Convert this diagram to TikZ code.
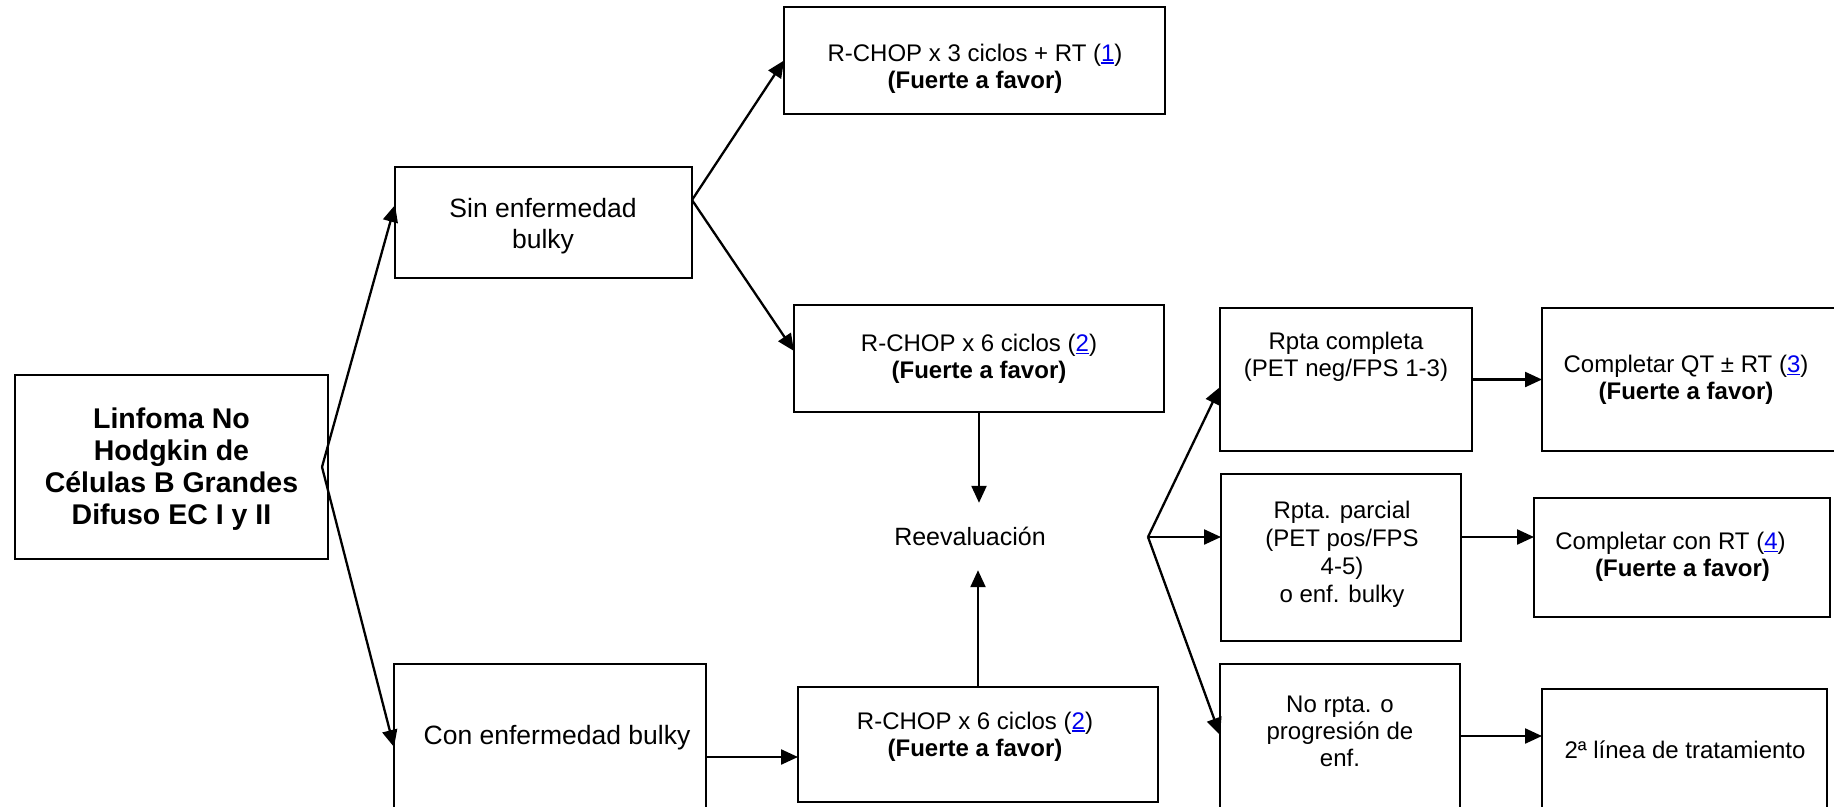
\documentclass[tikz,border=0pt]{standalone}
\usepackage{fontspec}
\setmainfont{Liberation Sans}
\usetikzlibrary{arrows.meta}
\definecolor{linkblue}{RGB}{0,0,238}
% blue underlined reference number
\newcommand\reflink[1]{{\color{linkblue}\setbox0\hbox{#1}\rlap{\raisebox{-2.6pt}{\rule{\wd0}{1.5pt}}}\box0}}

\begin{document}
\begin{tikzpicture}[x=1pt,y=-1pt,
  box/.style={draw, line width=2pt, inner sep=0pt, outer sep=0pt},
  txt/.style={align=center, inner sep=0pt, font=\fontsize{24}{27}\selectfont},
  big/.style={txt, font=\fontsize{26.5}{31}\selectfont},
  arr/.style={line width=2.3pt, -{Triangle[length=17pt,width=15pt]}}]
\clip (0,0) rectangle (1834,806);
\fill[white] (0,0) rectangle (1834,806);

% boxes
\node[box, minimum width=313pt, minimum height=184pt] (main)   at (171.5,467)   {};
\node[box, minimum width=297pt, minimum height=111pt] (sin)    at (543.5,222.5) {};
\node[box, minimum width=312pt, minimum height=166pt] (con)    at (550,747)     {};
\node[box, minimum width=381pt, minimum height=107pt] (rchop3) at (974.5,60.5)  {};
\node[box, minimum width=370pt, minimum height=107pt] (rchopA) at (979,358.5)   {};
\node[box, minimum width=360pt, minimum height=115pt] (rchopB) at (978,744.5)   {};
\node[box, minimum width=252pt, minimum height=143pt] (rcomp)  at (1346,379.5)  {};
\node[box, minimum width=308pt, minimum height=143pt] (compqt) at (1696,379.5)  {};
\node[box, minimum width=240pt, minimum height=167pt] (rparc)  at (1341,557.5)  {};
\node[box, minimum width=296pt, minimum height=119pt] (conrt)  at (1682,557.5)  {};
\node[box, minimum width=240pt, minimum height=166pt] (norpta) at (1340,747)    {};
\node[box, minimum width=285pt, minimum height=141pt] (linea2) at (1684.5,759.5){};

% texts
\node[txt, font=\bfseries\fontsize{28.5}{32}\selectfont] (tmain) at (171.5,469)
  {Linfoma No\\Hodgkin de\\Células B Grandes\\Difuso EC I y II};
\node[big] (tsin) at (543,226) {Sin enfermedad\\bulky};
\node[big] (tcon) at (557,738) {Con enfermedad bulky};
\node[txt] (trchop3) at (975,68.5) {R-CHOP x 3 ciclos + RT (\reflink{1})\\\textbf{(Fuerte a favor)}};
\node[txt] (trchopA) at (979,359) {R-CHOP x 6 ciclos (\reflink{2})\\\textbf{(Fuerte a favor)}};
\node[txt] (trchopB) at (975,736.5) {R-CHOP x 6 ciclos (\reflink{2})\\\textbf{(Fuerte a favor)}};
\node[txt, font=\fontsize{25}{28}\selectfont, minimum height=67pt] (reeval) at (970,536.5) {Reevaluación};
\node[txt] (trcomp) at (1346,356.5) {Rpta completa\\(PET neg/FPS 1-3)};
\node[txt] (tcompqt) at (1686,380) {Completar QT ± RT (\reflink{3})\\\textbf{(Fuerte a favor)}};
\node[txt, font=\fontsize{24}{28}\selectfont] (trparc) at (1342,554) {Rpta. parcial\\(PET pos/FPS\\4-5)\\o enf. bulky};
\node[txt] (tconrt) at (1670.5,557) {Completar con RT (\reflink{4})\\\hspace*{24pt}\textbf{(Fuerte a favor)}};
\node[txt, font=\fontsize{24}{27}\selectfont] (tnorpta) at (1340,731.5) {No rpta. o\\progresión de\\enf.};
\node[txt] (tlinea2) at (1685,750) {2ª línea de tratamiento};

% branching points
\coordinate (fork0) at ([xshift=-6pt]main.east);
\coordinate (fork1) at ([yshift=22.5pt]sin.east);
\coordinate (fork2) at (1148,537);

% connectors
\draw[arr] (fork0) -- ([yshift=17.5pt]sin.west);
\draw[arr] (fork0) -- (con.west);
\draw[arr] (fork1) -- (rchop3.west);
\draw[arr] (fork1) -- ([yshift=7.5pt]rchopA.west);
\draw[arr] ([yshift=-10pt]con.east) -- ([yshift=-12.5pt]rchopB.west);
\draw[arr] (rchopA.south) -- (rchopA.south |- reeval.north);
\draw[arr] (rchopB.north) -- (rchopB.north |- reeval.south);
\draw[arr] (fork2) -- ([yshift=-7.5pt]rcomp.west);
\draw[arr] (fork2) -- ([yshift=20.5pt]rparc.west);
\draw[arr] (fork2) -- ([yshift=12pt]norpta.west);
\draw[arr] (rcomp.east) -- (compqt.west);
\draw[arr] ([yshift=20.5pt]rparc.east) -- ([yshift=20.5pt]conrt.west);
\draw[arr] ([yshift=11pt]norpta.east) -- ([yshift=23.5pt]linea2.west);
\end{tikzpicture}
\end{document}
